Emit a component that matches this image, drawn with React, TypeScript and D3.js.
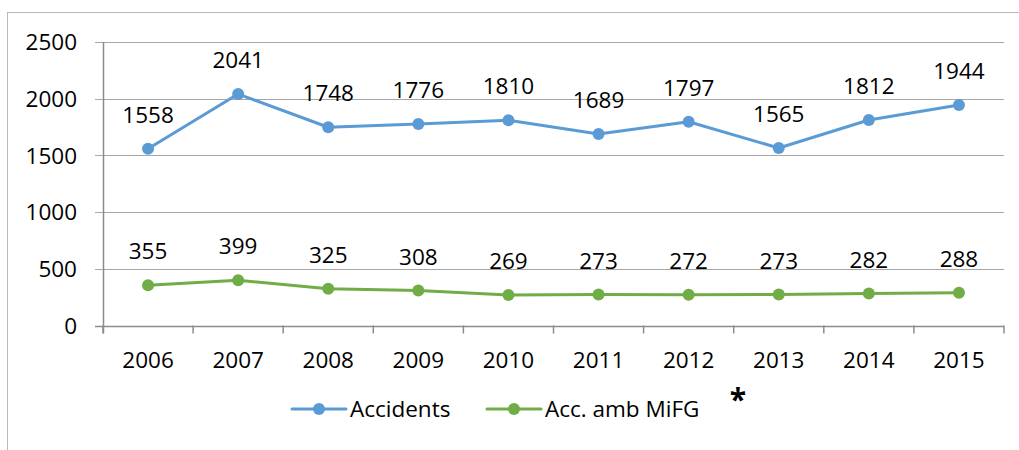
import React from "react";
import * as d3 from "d3";

const years = ["2006", "2007", "2008", "2009", "2010", "2011", "2012", "2013", "2014", "2015"];
const accidents = [1558, 2041, 1748, 1776, 1810, 1689, 1797, 1565, 1812, 1944];
const mifg = [355, 399, 325, 308, 269, 273, 272, 273, 282, 288];
const yTicks = [0, 500, 1000, 1500, 2000, 2500];
const seriesNames = ["Accidents", "Acc. amb MiFG"];
const colors = ["#5B9BD5", "#70AD47"];

const W = 1019, H = 450;
const left = 103, right = 1004, top = 42, bottom = 325.5;
const FONT = "'Open Sans', sans-serif";
const FS = 22.5;

export default function App() {
  const x = d3.scaleBand<string>().domain(years).range([left, right]);
  const y = d3.scaleLinear().domain([0, 2500]).range([bottom, top]);
  const cx = (d: string) => (x(d) as number) + x.bandwidth() / 2;
  const line = d3.line<number>().x((_, i) => cx(years[i])).y((v) => y(v));
  const series = [accidents, mifg];
  const edges = years.map((d) => x(d) as number).concat([right]);

  return (
    <svg width={W} height={H} style={{ position: "absolute", left: 0, top: 0, background: "#fff" }}>
      <rect x={7.5} y={12.5} width={1030} height={460} fill="#fff" stroke="#b8b8b8" strokeWidth={1} />
      {yTicks.map((t) => (
        <g key={t}>
          <line x1={left - 8} x2={right} y1={Math.round(y(t)) + 0.5} y2={Math.round(y(t)) + 0.5} stroke={t === 0 ? "#8c8c8c" : "#a6a6a6"} strokeWidth={t === 0 ? 1.5 : 1.2} />
          <text x={77} y={y(t)} dy="0.36em" textAnchor="end" fontFamily={FONT} fontSize={FS} fill="#000">{t}</text>
        </g>
      ))}
      <line x1={left + 0.5} x2={left + 0.5} y1={top} y2={bottom + 8} stroke="#8c8c8c" strokeWidth={1.5} />
      {edges.map((e, i) => (
        <line key={i} x1={e} x2={e} y1={bottom} y2={bottom + 8} stroke="#8c8c8c" strokeWidth={1.5} />
      ))}
      {years.map((d) => (
        <text key={d} x={cx(d)} y={368} textAnchor="middle" fontFamily={FONT} fontSize={FS} fill="#000">{d}</text>
      ))}
      {series.map((s, si) => (
        <g key={si}>
          <path d={line(s) as string} fill="none" stroke={colors[si]} strokeWidth={3} strokeLinejoin="round" strokeLinecap="round" />
          {s.map((v, i) => (
            <g key={i}>
              <circle cx={cx(years[i])} cy={y(v)} r={6} fill={colors[si]} />
              <text x={cx(years[i])} y={y(v) - 26} textAnchor="middle" fontFamily={FONT} fontSize={FS} fill="#000">{v}</text>
            </g>
          ))}
        </g>
      ))}
      {seriesNames.map((n, i) => {
        const lx = [292, 487][i];
        return (
          <g key={n}>
            <line x1={lx} x2={lx + 54} y1={409} y2={409} stroke={colors[i]} strokeWidth={3} strokeLinecap="round" />
            <circle cx={lx + 27} cy={409} r={6} fill={colors[i]} />
            <text x={lx + 58} y={409} dy="0.36em" fontFamily={FONT} fontSize={FS} fill="#000">{n}</text>
          </g>
        );
      })}
      <text x={738} y={410} textAnchor="middle" fontFamily={FONT} fontSize={30} fontWeight="bold" fill="#000">*</text>
    </svg>
  );
}
